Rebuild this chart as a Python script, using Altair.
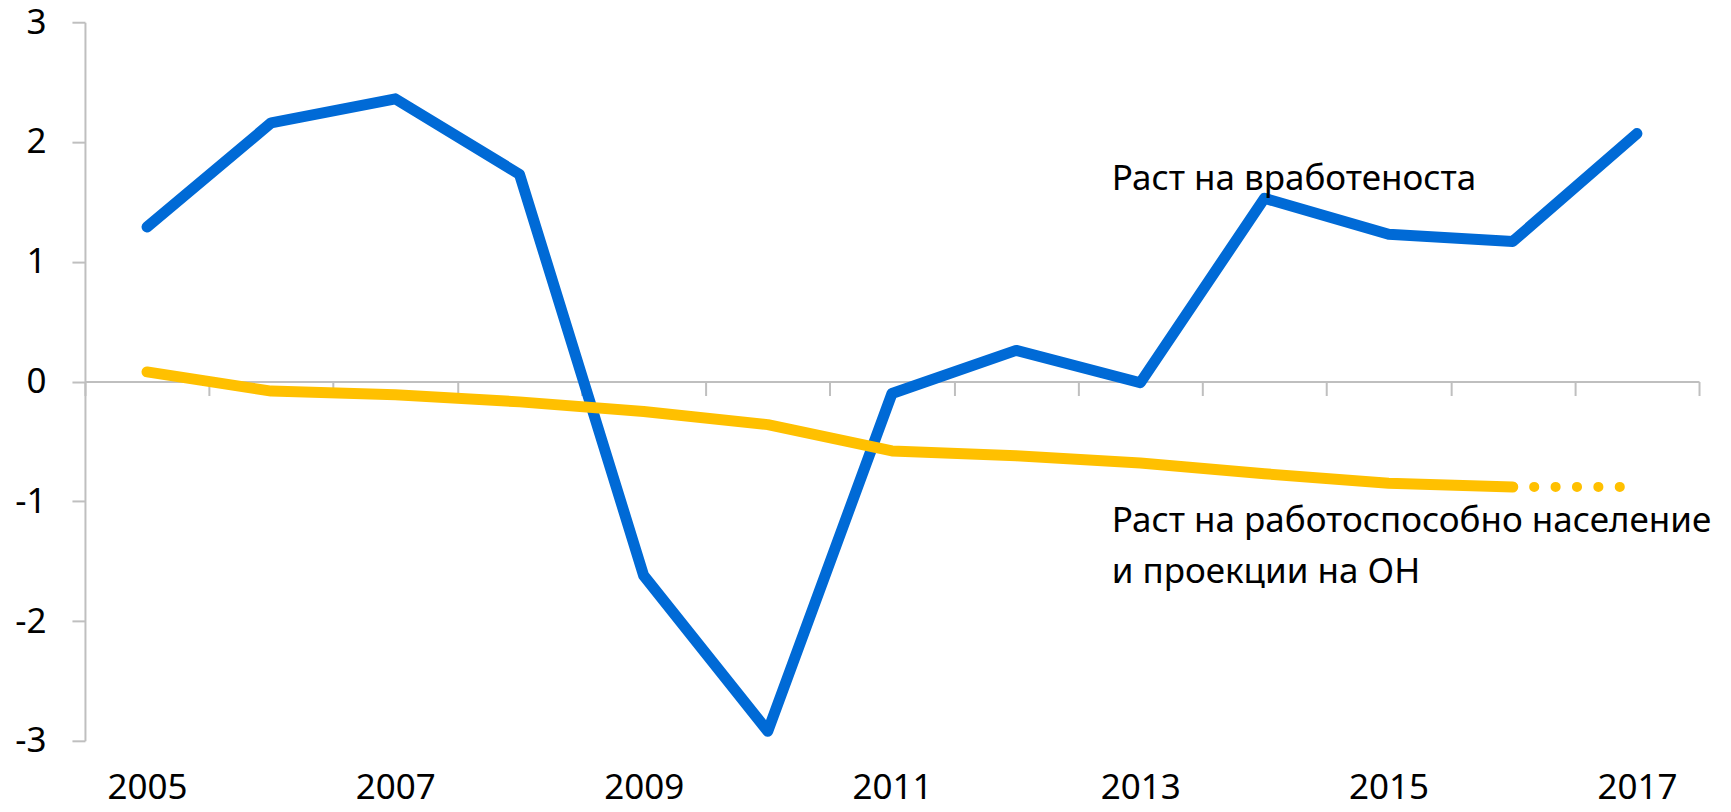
import altair as alt
import pandas as pd

years = list(range(2005, 2018))
employment = [1.29, 2.16, 2.36, 1.73, -1.62, -2.92, -0.10, 0.26, -0.01, 1.53, 1.23, 1.17, 2.07]
wa_years = list(range(2005, 2017))
working_age = [0.08, -0.08, -0.11, -0.17, -0.25, -0.36, -0.58, -0.62, -0.68, -0.77, -0.85, -0.88]
proj_years = [2016, 2017]
projection = [-0.88, -0.88]

x_tick_values = [y - 0.5 for y in range(2005, 2019)]
x_label_values = [2005, 2007, 2009, 2011, 2013, 2015, 2017]
y_tick_values = [-3, -2, -1, 0, 1, 2, 3]

label_text = ["Раст на вработеноста", "Раст на работоспособно население\nи проекции на ОН"]
label_x = [2012.77, 2012.77]
label_y = [1.60, -1.256]

FONT = "Noto Sans"
GREY = "#BFBFBF"
BLUE = "#006AD6"
YELLOW = "#FFC000"
FS = 35

emp_df = pd.DataFrame({"year": years, "value": employment})
wa_df = pd.DataFrame({"year": wa_years, "value": working_age})
proj_df = pd.DataFrame({"year": proj_years, "value": projection})
lab_df = pd.DataFrame({"x": label_x, "y": label_y, "text": label_text})

xscale = alt.Scale(domain=[2004.5, 2017.5], nice=False, zero=False)
yscale = alt.Scale(domain=[-3, 3], nice=False)

H = 719
W = 1615

yaxis = alt.Axis(
    values=y_tick_values, title=None, grid=False, tickSize=13, tickColor=GREY, tickWidth=2,
    domainColor=GREY, domainWidth=2, labelFont=FONT, labelFontSize=FS, labelColor="#000000",
    labelPadding=26, labelExpr="'' + datum.value")

blue = alt.Chart(emp_df).mark_line(color=BLUE, strokeWidth=11, strokeJoin="round", strokeCap="round").encode(
    x=alt.X("year:Q", scale=xscale, axis=alt.Axis(
        orient="bottom", offset=-H / 2, values=x_tick_values, labels=False, title=None,
        grid=False, tickSize=14, tickColor=GREY, tickWidth=2, domainColor=GREY, domainWidth=2)),
    y=alt.Y("value:Q", scale=yscale, axis=yaxis),
)

yellow = alt.Chart(wa_df).mark_line(color=YELLOW, strokeWidth=11, strokeJoin="round", strokeCap="round").encode(
    x=alt.X("year:Q", scale=xscale, axis=alt.Axis(
        orient="bottom", values=x_label_values, ticks=False, domain=False, title=None, grid=False,
        labelFont=FONT, labelFontSize=FS, labelColor="#000000", labelPadding=30, format="d")),
    y=alt.Y("value:Q", scale=yscale, axis=yaxis),
)

dotted = alt.Chart(proj_df).mark_line(color=YELLOW, strokeWidth=10, strokeCap="round", strokeDash=[0.1, 21.3]).encode(
    x=alt.X("year:Q", scale=xscale, axis=None),
    y=alt.Y("value:Q", scale=yscale, axis=yaxis),
)

labels = alt.Chart(lab_df).mark_text(align="left", baseline="alphabetic", font=FONT, fontSize=FS,
                                     color="#000000", lineBreak="\n", lineHeight=51).encode(
    x=alt.X("x:Q", scale=xscale, axis=None),
    y=alt.Y("y:Q", scale=yscale, axis=yaxis),
    text="text:N",
)

chart = alt.layer(blue, yellow, dotted, labels).resolve_axis(x="independent", y="shared").properties(
    width=W, height=H,
    autosize=alt.AutoSizeParams(type="none"),
    padding={"left": 77, "top": 14, "right": 24, "bottom": 70},
).configure_view(stroke=None)

chart.save("out.html", embed_options={"renderer": "svg", "actions": False})
